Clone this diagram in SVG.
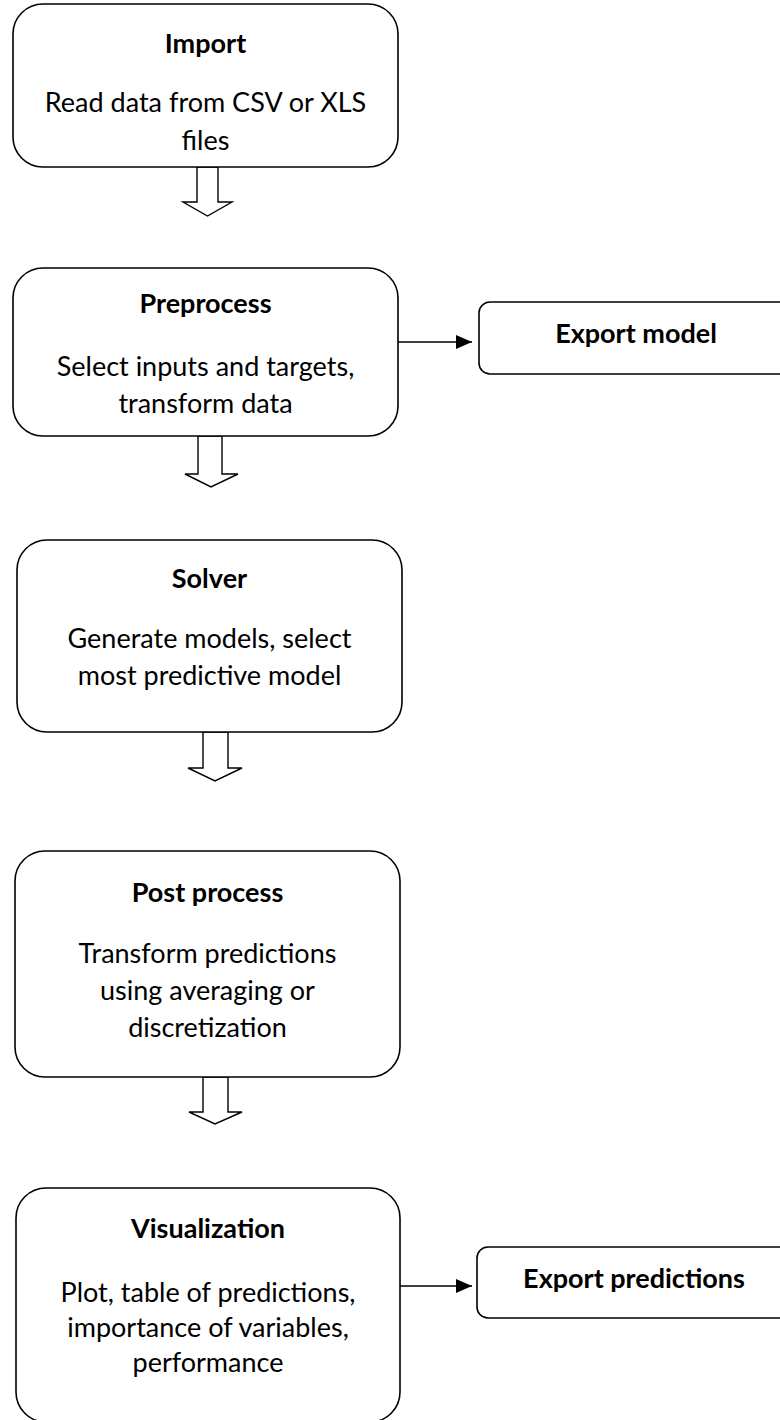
<svg xmlns="http://www.w3.org/2000/svg" width="780" height="1420" viewBox="0 0 780 1420">
<defs>
<style>
.box{fill:#fff;stroke:#000;stroke-width:1.6}
.t{font-family:Lato,"Liberation Sans",sans-serif;font-size:27px;fill:#000;text-anchor:middle}
.b{font-weight:bold}
.blk{fill:#fff;stroke:#000;stroke-width:1.4;stroke-linejoin:miter}
.ln{stroke:#000;stroke-width:1.4;fill:none}
</style>
<marker id="ah" markerWidth="16" markerHeight="14" refX="16" refY="7" orient="auto" markerUnits="userSpaceOnUse">
<path d="M0,0 L16,7 L0,14 Z" fill="#000"/>
</marker>
</defs>
<rect width="780" height="1420" fill="#fff"/>
<g id="connectors">
<polygon class="blk" points="197,167 218,167 218,202 232,202 207.5,216 183,202 197,202"/>
<polygon class="blk" points="198,436 222,436 222,474 238,474 211,487 185,474 198,474"/>
<polygon class="blk" points="203,732 228,732 228,768 242,768 215,781 188,768 203,768"/>
<polygon class="blk" points="203,1077 228,1077 228,1112 242,1112 215,1124 189,1112 203,1112"/>
<line class="ln" x1="398" y1="342" x2="472" y2="342" marker-end="url(#ah)"/>
<line class="ln" x1="400" y1="1286" x2="472" y2="1286" marker-end="url(#ah)"/>
</g>
<g id="import">
<rect class="box" x="13" y="4" width="385" height="163" rx="30"/>
<text class="t b" x="205.5" y="53">Import</text>
<text class="t" x="205.5" y="112">Read data from CSV or XLS</text>
<text class="t" x="205.5" y="150">files</text>
</g>
<g id="preprocess">
<rect class="box" x="13" y="268" width="385" height="168" rx="30"/>
<text class="t b" x="205.5" y="313">Preprocess</text>
<text class="t" x="205.5" y="376">Select inputs and targets,</text>
<text class="t" x="205.5" y="413">transform data</text>
</g>
<g id="export-model">
<rect class="box" x="479" y="302" width="320" height="72" rx="11"/>
<text class="t b" x="636" y="343">Export model</text>
</g>
<g id="solver">
<rect class="box" x="17" y="540" width="385" height="192" rx="30"/>
<text class="t b" x="209.5" y="588">Solver</text>
<text class="t" x="209.5" y="648">Generate models, select</text>
<text class="t" x="209.5" y="685">most predictive model</text>
</g>
<g id="post-process">
<rect class="box" x="15" y="851" width="385" height="226" rx="30"/>
<text class="t b" x="207.5" y="902">Post process</text>
<text class="t" x="207.5" y="963">Transform predictions</text>
<text class="t" x="207.5" y="1000">using averaging or</text>
<text class="t" x="207.5" y="1037">discretization</text>
</g>
<g id="visualization">
<rect class="box" x="16" y="1188" width="384" height="234" rx="30"/>
<text class="t b" x="208" y="1238">Visualization</text>
<text class="t" x="208" y="1302">Plot, table of predictions,</text>
<text class="t" x="208" y="1337">importance of variables,</text>
<text class="t" x="208" y="1372">performance</text>
</g>
<g id="export-predictions">
<rect class="box" x="477" y="1247" width="322" height="71" rx="11"/>
<text class="t b" x="634" y="1288">Export predictions</text>
</g>
</svg>
